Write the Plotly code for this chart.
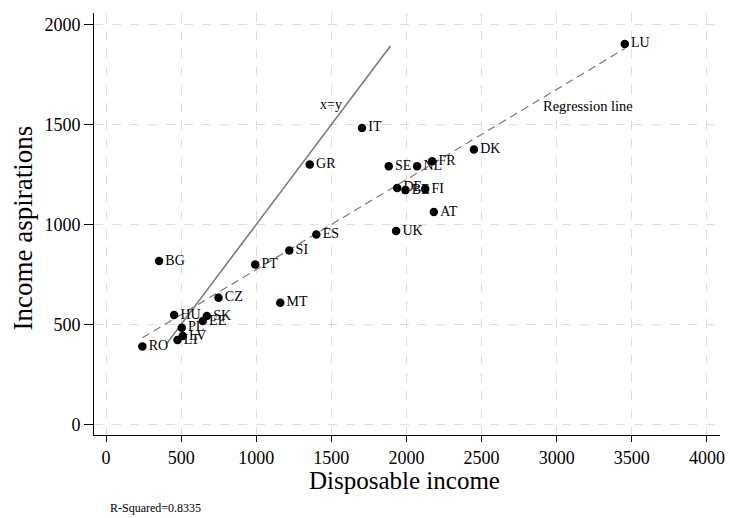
import plotly.graph_objects as go

countries = ["LU", "DK", "FR", "FI", "AT", "IT", "GR", "SE", "NL", "DE", "BE", "UK", "ES",
             "SI", "PT", "MT", "CZ", "BG", "HU", "SK", "EE", "PL", "LV", "LT", "RO"]
disposable_income = [3453, 2449, 2171, 2125, 2182, 1704, 1356, 1882, 2071, 1938, 1993, 1931, 1400,
                     1220, 993, 1160, 749, 353, 453, 671, 644, 504, 511, 476, 242]
income_aspirations = [1903, 1375, 1316, 1177, 1062, 1483, 1300, 1292, 1292, 1183, 1172, 967, 950,
                      870, 800, 608, 633, 817, 547, 542, 517, 483, 442, 422, 390]

reg_x = [242, 3453]
reg_y = [433, 1880]
xy_x = [404, 1893]
xy_y = [404, 1893]

x_ticks = [0, 500, 1000, 1500, 2000, 2500, 3000, 3500, 4000]
y_ticks = [0, 500, 1000, 1500, 2000]

FONT = "Liberation Serif"

fig = go.Figure()
fig.add_trace(go.Scatter(x=xy_x, y=xy_y, mode="lines",
                         line=dict(color="#7a7a7a", width=1.6), showlegend=False,
                         hoverinfo="skip"))
fig.add_trace(go.Scatter(x=reg_x, y=reg_y, mode="lines",
                         line=dict(color="#7a7a7a", width=1.2, dash="8px,5px"),
                         showlegend=False, hoverinfo="skip"))
fig.add_trace(go.Scatter(x=disposable_income, y=income_aspirations, mode="markers+text",
                         text=countries, textposition="middle right",
                         textfont=dict(family=FONT, size=14, color="black"),
                         marker=dict(color="black", size=8.5), showlegend=False))

fig.add_annotation(x=1500, y=1601, text="x=y", showarrow=False,
                   font=dict(family=FONT, size=14, color="black"))
fig.add_annotation(x=3210, y=1591, text="Regression line", showarrow=False,
                   font=dict(family=FONT, size=14.5, color="black"))
fig.add_annotation(x=0, y=0, xref="paper", yref="paper", xshift=14, yshift=-73,
                   text="R-Squared=0.8335", showarrow=False, xanchor="left", yanchor="middle",
                   font=dict(family=FONT, size=12, color="black"))
fig.add_annotation(x=0.5, y=0, xref="paper", yref="paper", xshift=-2.5, yshift=-45,
                   text="Disposable income", showarrow=False, xanchor="center", yanchor="middle",
                   font=dict(family=FONT, size=25, color="black"))
fig.add_annotation(x=0, y=0.5, xref="paper", yref="paper", xshift=-72, yshift=-4.5,
                   text="Income aspirations", showarrow=False, textangle=-90,
                   xanchor="center", yanchor="middle",
                   font=dict(family=FONT, size=27, color="black"))

axis_common = dict(showline=True, linecolor="black", linewidth=1, ticks="outside",
                   tickcolor="black", zeroline=False, automargin=False,
                   showgrid=True, gridcolor="#dddddd", griddash="dash", gridwidth=1,
                   tickfont=dict(family=FONT, size=18, color="black"))

fig.update_xaxes(range=[-80, 4087], tickvals=x_ticks, ticklen=6, **axis_common)
fig.update_yaxes(range=[-53, 2058], tickvals=y_ticks, ticklen=9, **axis_common)

fig.update_layout(width=730, height=518, margin=dict(l=94, r=10, t=13, b=83),
                  plot_bgcolor="white", paper_bgcolor="white",
                  font=dict(family=FONT, color="black"))

fig.write_html("out.html", config={"displayModeBar": False},
               post_script="document.body.style.margin='0';")
